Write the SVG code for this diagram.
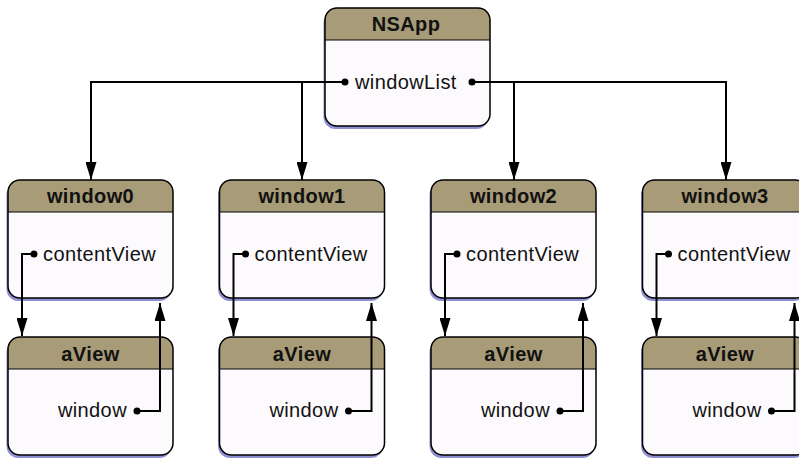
<svg xmlns="http://www.w3.org/2000/svg" width="799" height="458" viewBox="0 0 799 458">
<style>
.sh{fill:#8e8ed2}
.body{fill:#fdfafd}
.hd{fill:#a89b78}
.ol{fill:none;stroke:#000;stroke-width:1.5}
.sep{stroke:#000;stroke-width:1}
.ttl{font-family:"Liberation Sans",Arial,sans-serif;font-weight:bold;font-size:20px;letter-spacing:0.4px;fill:#111;text-anchor:middle}
.lbl{font-family:"Liberation Sans",Arial,sans-serif;font-size:20px;letter-spacing:0.4px;fill:#111}
.ln{fill:none;stroke:#000;stroke-width:2}
.dot{fill:#000}
</style>
<defs>
<marker id="ah" viewBox="0 0 18 11" refX="18" refY="5.5" markerWidth="18" markerHeight="11" markerUnits="userSpaceOnUse" orient="auto">
<path d="M0,0 L18,5.5 L0,11 Z" fill="#000"/>
</marker>
<g id="box">
<rect class="sh" x="-1.5" y="3" width="165" height="118" rx="12"/>
<rect class="body" x="0" y="0" width="165" height="118" rx="12"/>
<path class="hd" d="M0,32 V12 A12,12 0 0 1 12,0 H153 A12,12 0 0 1 165,12 V32 Z"/>
<line class="sep" x1="0" y1="32" x2="165" y2="32"/>
<rect class="ol" x="0" y="0" width="165" height="118" rx="12"/>
</g>
</defs>

<g id="NSApp">
<use href="#box" x="325" y="8"/>
<text class="ttl" x="406" y="31">NSApp</text>
<text class="lbl" x="355" y="89">windowList</text>
</g>

<g id="window0">
<use href="#box" x="8" y="180"/>
<text class="ttl" x="90.5" y="203">window0</text>
<text class="lbl" x="43" y="261">contentView</text>
</g>
<g id="window1">
<use href="#box" x="219.5" y="180"/>
<text class="ttl" x="302" y="203">window1</text>
<text class="lbl" x="254.5" y="261">contentView</text>
</g>
<g id="window2">
<use href="#box" x="431" y="180"/>
<text class="ttl" x="513.5" y="203">window2</text>
<text class="lbl" x="466" y="261">contentView</text>
</g>
<g id="window3">
<use href="#box" x="642.5" y="180"/>
<text class="ttl" x="725" y="203">window3</text>
<text class="lbl" x="677.5" y="261">contentView</text>
</g>

<g id="aView0">
<use href="#box" x="8" y="337"/>
<text class="ttl" x="90.5" y="361">aView</text>
<text class="lbl" x="127" y="417" text-anchor="end">window</text>
</g>
<g id="aView1">
<use href="#box" x="219.5" y="337"/>
<text class="ttl" x="302" y="361">aView</text>
<text class="lbl" x="338.5" y="417" text-anchor="end">window</text>
</g>
<g id="aView2">
<use href="#box" x="431" y="337"/>
<text class="ttl" x="513.5" y="361">aView</text>
<text class="lbl" x="550" y="417" text-anchor="end">window</text>
</g>
<g id="aView3">
<use href="#box" x="642.5" y="337"/>
<text class="ttl" x="725" y="361">aView</text>
<text class="lbl" x="761.5" y="417" text-anchor="end">window</text>
</g>

<g id="connectors">
<path class="ln" d="M345,82 H91 V180" marker-end="url(#ah)"/>
<path class="ln" d="M302,82 V180" marker-end="url(#ah)"/>
<path class="ln" d="M472,82 H726 V180" marker-end="url(#ah)"/>
<path class="ln" d="M514,82 V180" marker-end="url(#ah)"/>
<circle class="dot" cx="345" cy="82" r="3.5"/>
<circle class="dot" cx="472" cy="82" r="3.5"/>

<path class="ln" d="M34,254 H22 V336" marker-end="url(#ah)"/>
<path class="ln" d="M245.5,254 H233.5 V336" marker-end="url(#ah)"/>
<path class="ln" d="M457,254 H445 V336" marker-end="url(#ah)"/>
<path class="ln" d="M668.5,254 H656.5 V336" marker-end="url(#ah)"/>
<circle class="dot" cx="34" cy="254" r="3.5"/>
<circle class="dot" cx="245.5" cy="254" r="3.5"/>
<circle class="dot" cx="457" cy="254" r="3.5"/>
<circle class="dot" cx="668.5" cy="254" r="3.5"/>

<path class="ln" d="M137,411 H160 V303" marker-end="url(#ah)"/>
<path class="ln" d="M348.5,411 H371.5 V303" marker-end="url(#ah)"/>
<path class="ln" d="M560,411 H583 V303" marker-end="url(#ah)"/>
<path class="ln" d="M771.5,411 H794.5 V303" marker-end="url(#ah)"/>
<circle class="dot" cx="137" cy="411" r="3.5"/>
<circle class="dot" cx="348.5" cy="411" r="3.5"/>
<circle class="dot" cx="560" cy="411" r="3.5"/>
<circle class="dot" cx="771.5" cy="411" r="3.5"/>
</g>
</svg>
